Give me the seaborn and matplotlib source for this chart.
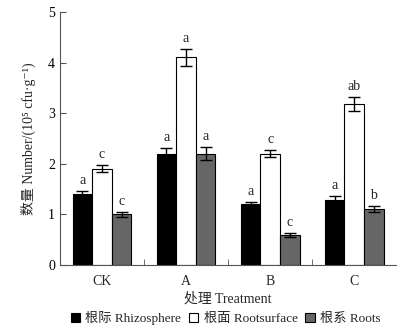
import numpy as np
import pandas as pd
import matplotlib
matplotlib.use("Agg")
import matplotlib.pyplot as plt
import seaborn as sns

treatments = ["CK", "A", "B", "C"]
series = ["根际 Rhizosphere", "根面 Rootsurface", "根系 Roots"]
rhizosphere = [1.40, 2.20, 1.20, 1.28]
rootsurface = [1.90, 4.10, 2.20, 3.18]
roots = [1.00, 2.20, 0.60, 1.10]
err_rhizo = [0.07, 0.12, 0.04, 0.08]
err_surface = [0.07, 0.17, 0.07, 0.13]
err_roots = [0.05, 0.13, 0.04, 0.06]
letters_rhizo = ["a", "a", "a", "a"]
letters_surface = ["c", "a", "c", "ab"]
letters_roots = ["c", "a", "c", "b"]

sns.set_style("ticks")
plt.rcParams['font.family'] = ['Liberation Serif', 'Noto Sans CJK SC', 'DejaVu Serif']

df = pd.DataFrame({
    "treatment": treatments * 3,
    "series": np.repeat(series, 4),
    "value": rhizosphere + rootsurface + roots,
    "err": err_rhizo + err_surface + err_roots,
    "letter": letters_rhizo + letters_surface + letters_roots,
})

colors = ["#000000", "#ffffff", "#666666"]
fig = plt.figure(figsize=(4.03, 3.32), dpi=100)
ax = fig.add_axes([0.149, 0.202, 0.834, 0.762])
sns.barplot(data=df, x="treatment", y="value", hue="series", order=treatments,
            hue_order=series, palette=colors, width=0.7, edgecolor="black",
            linewidth=0.8, errorbar=None, legend=False, ax=ax)

# error bars and significance letters
bars = [p for p in ax.patches if p.get_height() > 0]
for p, (_, row) in zip(bars, df.iterrows()):
    cx = p.get_x() + p.get_width() / 2
    ax.errorbar(cx, row["value"], yerr=row["err"], color="black", capsize=4,
                elinewidth=1, capthick=1)
    ax.text(cx, row["value"] + row["err"] + 0.08, row["letter"], ha="center",
            va="bottom", fontsize=10)

ax.set_ylim(0, 5)
ax.set_xlim(-0.5, 3.5)
ax.set_yticks([0, 1, 2, 3, 4, 5])
ax.tick_params(axis="y", direction="in", length=4, labelsize=10, colors="#555555",
               labelcolor="black")
ax.tick_params(axis="x", length=0, labelsize=10, pad=7)
ax.set_xticks([0.5, 1.5, 2.5], minor=True)
ax.tick_params(axis="x", which="minor", direction="in", length=4, colors="#555555")
for s in ["top", "right"]:
    ax.spines[s].set_visible(False)
for s in ["left", "bottom"]:
    ax.spines[s].set_color("#555555")
ax.set_xlabel("处理 Treatment", fontsize=10, labelpad=3)
ax.set_ylabel("数量 Number/(10⁵ cfu·g⁻¹)", fontsize=10, labelpad=9)

handles = [plt.Rectangle((0, 0), 1, 1, facecolor=c, edgecolor="black", linewidth=0.8)
           for c in colors]
fig.legend(handles, series, loc="lower center", bbox_to_anchor=(0.56, -0.015), ncol=3,
           frameon=False, fontsize=9.5, handlelength=0.7, handleheight=0.7,
           handletextpad=0.4, columnspacing=0.6)

fig.savefig("out.png", dpi=100)
